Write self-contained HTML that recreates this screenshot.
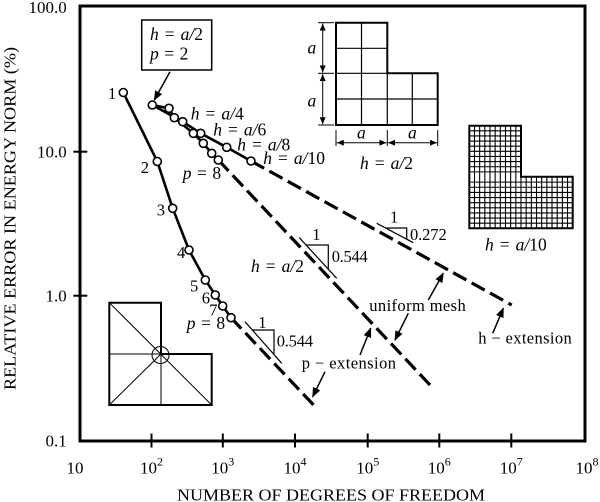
<!DOCTYPE html>
<html><head><meta charset="utf-8"><style>
html,body{margin:0;padding:0;background:#fff;}
svg{display:block;}
text{font-family:"Liberation Serif",serif;fill:#000;}
.i{font-style:italic;}
</style></head><body>
<svg width="600" height="502" viewBox="0 0 600 502" xmlns="http://www.w3.org/2000/svg">
<defs>
<marker id="ah" markerWidth="10" markerHeight="8" refX="9" refY="4" orient="auto" markerUnits="userSpaceOnUse">
<path d="M0,0 L10,4 L0,8 Z" fill="#000"/>
</marker>
<marker id="as" markerWidth="7" markerHeight="6" refX="7" refY="3" orient="auto-start-reverse" markerUnits="userSpaceOnUse">
<path d="M0,0 L7,3 L0,6 Z" fill="#000"/>
</marker>
</defs>

<!-- frame -->
<rect x="80" y="6" width="505" height="435" fill="none" stroke="#000" stroke-width="3"/>
<g stroke="#000" stroke-width="2">
<line x1="151.5" y1="433.5" x2="151.5" y2="447.5"/>
<line x1="222.8" y1="433.5" x2="222.8" y2="447.5"/>
<line x1="295" y1="433.5" x2="295" y2="447.5"/>
<line x1="367.7" y1="433.5" x2="367.7" y2="447.5"/>
<line x1="439.3" y1="433.5" x2="439.3" y2="447.5"/>
<line x1="511.3" y1="433.5" x2="511.3" y2="447.5"/>
<line x1="73.3" y1="151.7" x2="87.3" y2="151.7"/>
<line x1="73.3" y1="295.7" x2="87.3" y2="295.7"/>
</g>

<g font-size="17" text-anchor="end">
<text x="66.7" y="13">100.0</text>
<text x="66.7" y="157.5">10.0</text>
<text x="66.7" y="301.5">1.0</text>
<text x="66.7" y="446.5">0.1</text>
</g>
<g font-size="17">
<text x="66.5" y="473.3">10</text>
<text x="140" y="473.3">10<tspan font-size="12" dy="-8">2</tspan></text>
<text x="211.3" y="473.3">10<tspan font-size="12" dy="-8">3</tspan></text>
<text x="283.5" y="473.3">10<tspan font-size="12" dy="-8">4</tspan></text>
<text x="356.2" y="473.3">10<tspan font-size="12" dy="-8">5</tspan></text>
<text x="427.8" y="473.3">10<tspan font-size="12" dy="-8">6</tspan></text>
<text x="499.8" y="473.3">10<tspan font-size="12" dy="-8">7</tspan></text>
<text x="575.5" y="473.3">10<tspan font-size="12" dy="-8">8</tspan></text>
</g>

<text x="331" y="500.5" font-size="16.5" text-anchor="middle" textLength="308" lengthAdjust="spacingAndGlyphs">NUMBER OF DEGREES OF FREEDOM</text>
<text transform="translate(15.5,218.5) rotate(-90)" x="0" y="0" font-size="16.5" text-anchor="middle" textLength="343" lengthAdjust="spacingAndGlyphs">RELATIVE ERROR IN ENERGY NORM (%)</text>

<g fill="none" stroke="#000" stroke-width="3.2" stroke-dasharray="15 6">
<line x1="251" y1="161" x2="511.7" y2="305"/>
<line x1="218.3" y1="160" x2="430" y2="385"/>
<line x1="231" y1="317.7" x2="316.7" y2="408.3"/>
</g>

<g fill="none" stroke="#000" stroke-width="2.6" stroke-linejoin="round">
<polyline points="123.3,92.5 157.3,161.5 172.7,208.3 189,250 205.3,280 215.3,295 222.7,306 231,317.7"/>
<polyline points="152.3,105 182.7,121.7 200.7,133.3 226.7,147.3 251,161"/>
<polyline points="152.3,105 169,108.3 174.3,117.7 193.3,133.3 203.3,143.3 211.7,153.3 218.3,160"/>
</g>
<g fill="#fff" stroke="#000" stroke-width="1.6">
<circle cx="123.3" cy="92.5" r="4"/>
<circle cx="157.3" cy="161.5" r="4"/>
<circle cx="172.7" cy="208.3" r="4"/>
<circle cx="189" cy="250" r="4"/>
<circle cx="205.3" cy="280" r="4"/>
<circle cx="215.3" cy="295" r="4"/>
<circle cx="222.7" cy="306" r="4"/>
<circle cx="231" cy="317.7" r="4"/>
<circle cx="152.3" cy="105" r="4"/>
<circle cx="182.7" cy="121.7" r="4"/>
<circle cx="200.7" cy="133.3" r="4"/>
<circle cx="226.7" cy="147.3" r="4"/>
<circle cx="251" cy="161" r="4"/>
<circle cx="169" cy="108.3" r="4"/>
<circle cx="174.3" cy="117.7" r="4"/>
<circle cx="193.3" cy="133.3" r="4"/>
<circle cx="203.3" cy="143.3" r="4"/>
<circle cx="211.7" cy="153.3" r="4"/>
<circle cx="218.3" cy="160" r="4"/>
</g>

<g font-size="16.5">
<text x="108" y="99">1</text>
<text x="140.7" y="173">2</text>
<text x="156.7" y="215.5">3</text>
<text x="177" y="258">4</text>
<text x="190" y="291.5">5</text>
<text x="201.7" y="303.5">6</text>
<text x="209.3" y="315.5">7</text>
</g>

<g font-size="17.5">
<text x="190.7" y="119.5"><tspan class="i">h</tspan><tspan dx="6">=</tspan><tspan dx="6" class="i">a/</tspan>4</text>
<text x="213.3" y="135.5"><tspan class="i">h</tspan><tspan dx="6">=</tspan><tspan dx="6" class="i">a/</tspan>6</text>
<text x="237.3" y="150.5"><tspan class="i">h</tspan><tspan dx="6">=</tspan><tspan dx="6" class="i">a/</tspan>8</text>
<text x="263.3" y="164"><tspan class="i">h</tspan><tspan dx="6">=</tspan><tspan dx="6" class="i">a/</tspan>10</text>
<text x="182.7" y="179"><tspan class="i">p</tspan><tspan dx="5.5">=</tspan><tspan dx="5.5">8</tspan></text>
<text x="186.7" y="329"><tspan class="i">p</tspan><tspan dx="5.5">=</tspan><tspan dx="5.5">8</tspan></text>
<text x="251" y="272"><tspan class="i">h</tspan><tspan dx="6">=</tspan><tspan dx="6" class="i">a/</tspan>2</text>
<text x="360" y="169"><tspan class="i">h</tspan><tspan dx="6">=</tspan><tspan dx="6" class="i">a/</tspan>2</text>
<text x="485" y="250.5"><tspan class="i">h</tspan><tspan dx="6">=</tspan><tspan dx="6" class="i">a/</tspan>10</text>
<text x="150" y="40"><tspan class="i">h</tspan><tspan dx="6">=</tspan><tspan dx="6" class="i">a/</tspan>2</text>
<text x="150" y="59.5"><tspan class="i">p</tspan><tspan dx="5.5">=</tspan><tspan dx="5.5">2</tspan></text>
</g>

<rect x="141.7" y="20" width="70" height="50" fill="none" stroke="#000" stroke-width="1.5"/>
<line x1="170" y1="71.7" x2="154.3" y2="100" stroke="#000" stroke-width="1.5" marker-end="url(#ah)"/>

<g fill="none" stroke="#000" stroke-width="1.2">
<line x1="376.7" y1="223.3" x2="413.3" y2="242.7"/>
<polyline points="385.6,228 406.7,228 406.7,239.2"/>
<line x1="299.3" y1="237.7" x2="336.7" y2="278.3"/>
<polyline points="306,245 328.3,245 328.3,269.2"/>
<line x1="245" y1="321.7" x2="281.7" y2="363.3"/>
<polyline points="252.3,330 274,330 274,354"/>
</g>
<g font-size="16.5">
<text x="390" y="222.5">1</text>
<text x="410" y="240" textLength="36.7" lengthAdjust="spacing">0.272</text>
<text x="312.3" y="240">1</text>
<text x="331.7" y="262" textLength="36" lengthAdjust="spacing">0.544</text>
<text x="258.3" y="328">1</text>
<text x="276.7" y="346.5" textLength="36.3" lengthAdjust="spacing">0.544</text>
</g>

<g font-size="16.5">
<text x="369.3" y="311" textLength="96.4" lengthAdjust="spacing">uniform mesh</text>
<text x="478.3" y="343.3" textLength="93.4" lengthAdjust="spacing">h − extension</text>
<text x="301.7" y="368.3" textLength="94.3" lengthAdjust="spacing">p − extension</text>
</g>
<g stroke="#000" stroke-width="1.5">
<line x1="428.3" y1="300" x2="443.3" y2="273.3" marker-end="url(#ah)"/>
<line x1="408.3" y1="313.3" x2="395" y2="340" marker-end="url(#ah)"/>
<line x1="492.7" y1="333.3" x2="503.3" y2="308.3" marker-end="url(#ah)"/>
<line x1="360" y1="355" x2="370.7" y2="328.3" marker-end="url(#ah)"/>
<line x1="325" y1="371.7" x2="312.7" y2="396.7" marker-end="url(#ah)"/>
</g>

<g fill="none" stroke="#000">
<path d="M336,22.7 H387.3 V73.3 H437.7 V125 H336 Z" stroke-width="2"/>
<g stroke-width="1.2">
<line x1="361.5" y1="22.7" x2="361.5" y2="125"/>
<line x1="387.3" y1="73.3" x2="387.3" y2="125"/>
<line x1="412.3" y1="73.3" x2="412.3" y2="125"/>
<line x1="336" y1="48.3" x2="387.3" y2="48.3"/>
<line x1="336" y1="73.3" x2="387.3" y2="73.3"/>
<line x1="336" y1="99" x2="437.7" y2="99"/>
</g>
<g stroke-width="1">
<line x1="318" y1="22.7" x2="334" y2="22.7"/>
<line x1="318" y1="73.3" x2="334" y2="73.3"/>
<line x1="318" y1="125" x2="334" y2="125"/>
<line x1="336" y1="130" x2="336" y2="146"/>
<line x1="387.3" y1="130" x2="387.3" y2="146"/>
<line x1="437.7" y1="130" x2="437.7" y2="146"/>
<line x1="322.7" y1="23.5" x2="322.7" y2="72.5" marker-start="url(#as)" marker-end="url(#as)"/>
<line x1="322.7" y1="74.1" x2="322.7" y2="124.2" marker-start="url(#as)" marker-end="url(#as)"/>
<line x1="336.8" y1="142.7" x2="386.5" y2="142.7" marker-start="url(#as)" marker-end="url(#as)"/>
<line x1="388.1" y1="142.7" x2="436.9" y2="142.7" marker-start="url(#as)" marker-end="url(#as)"/>
</g>
</g>
<g font-size="17.5" font-style="italic">
<text x="307.5" y="53.3">a</text>
<text x="307.5" y="106.5">a</text>
<text x="357" y="138.5">a</text>
<text x="408" y="138.5">a</text>
</g>

<g fill="none" stroke="#000" stroke-width="1.1">
<line x1="474.47" y1="125.7" x2="474.47" y2="228.3"/>
<line x1="479.64" y1="125.7" x2="479.64" y2="228.3"/>
<line x1="484.81" y1="125.7" x2="484.81" y2="228.3"/>
<line x1="489.98" y1="125.7" x2="489.98" y2="228.3"/>
<line x1="495.15" y1="125.7" x2="495.15" y2="228.3"/>
<line x1="500.32" y1="125.7" x2="500.32" y2="228.3"/>
<line x1="505.49" y1="125.7" x2="505.49" y2="228.3"/>
<line x1="510.66" y1="125.7" x2="510.66" y2="228.3"/>
<line x1="515.83" y1="125.7" x2="515.83" y2="228.3"/>
<line x1="521" y1="176.7" x2="521" y2="228.3"/>
<line x1="526.17" y1="176.7" x2="526.17" y2="228.3"/>
<line x1="531.34" y1="176.7" x2="531.34" y2="228.3"/>
<line x1="536.51" y1="176.7" x2="536.51" y2="228.3"/>
<line x1="541.68" y1="176.7" x2="541.68" y2="228.3"/>
<line x1="546.85" y1="176.7" x2="546.85" y2="228.3"/>
<line x1="552.02" y1="176.7" x2="552.02" y2="228.3"/>
<line x1="557.19" y1="176.7" x2="557.19" y2="228.3"/>
<line x1="562.36" y1="176.7" x2="562.36" y2="228.3"/>
<line x1="567.53" y1="176.7" x2="567.53" y2="228.3"/>
<line x1="469.3" y1="130.83" x2="521" y2="130.83"/>
<line x1="469.3" y1="135.96" x2="521" y2="135.96"/>
<line x1="469.3" y1="141.09" x2="521" y2="141.09"/>
<line x1="469.3" y1="146.22" x2="521" y2="146.22"/>
<line x1="469.3" y1="151.35" x2="521" y2="151.35"/>
<line x1="469.3" y1="156.48" x2="521" y2="156.48"/>
<line x1="469.3" y1="161.61" x2="521" y2="161.61"/>
<line x1="469.3" y1="166.74" x2="521" y2="166.74"/>
<line x1="469.3" y1="171.87" x2="521" y2="171.87"/>
<line x1="469.3" y1="182.13" x2="572.7" y2="182.13"/>
<line x1="469.3" y1="187.26" x2="572.7" y2="187.26"/>
<line x1="469.3" y1="192.39" x2="572.7" y2="192.39"/>
<line x1="469.3" y1="197.52" x2="572.7" y2="197.52"/>
<line x1="469.3" y1="202.65" x2="572.7" y2="202.65"/>
<line x1="469.3" y1="207.78" x2="572.7" y2="207.78"/>
<line x1="469.3" y1="212.91" x2="572.7" y2="212.91"/>
<line x1="469.3" y1="218.04" x2="572.7" y2="218.04"/>
<line x1="469.3" y1="223.17" x2="572.7" y2="223.17"/>
<path d="M469.3,125.7 H521 V176.7 H572.7 V228.3 H469.3 Z" stroke-width="2"/>
</g>

<g fill="none" stroke="#000">
<path d="M109.3,302.7 H161 V354 H211.7 V405 H109.3 Z" stroke-width="2"/>
<g stroke-width="1">
<line x1="161" y1="354" x2="161" y2="405"/>
<line x1="109.3" y1="354" x2="161" y2="354"/>
<line x1="109.3" y1="302.7" x2="211.7" y2="405"/>
<line x1="109.3" y1="405" x2="161" y2="354"/>
<circle cx="160.5" cy="355" r="8.5"/>
</g>
</g>
</svg>
</body></html>
